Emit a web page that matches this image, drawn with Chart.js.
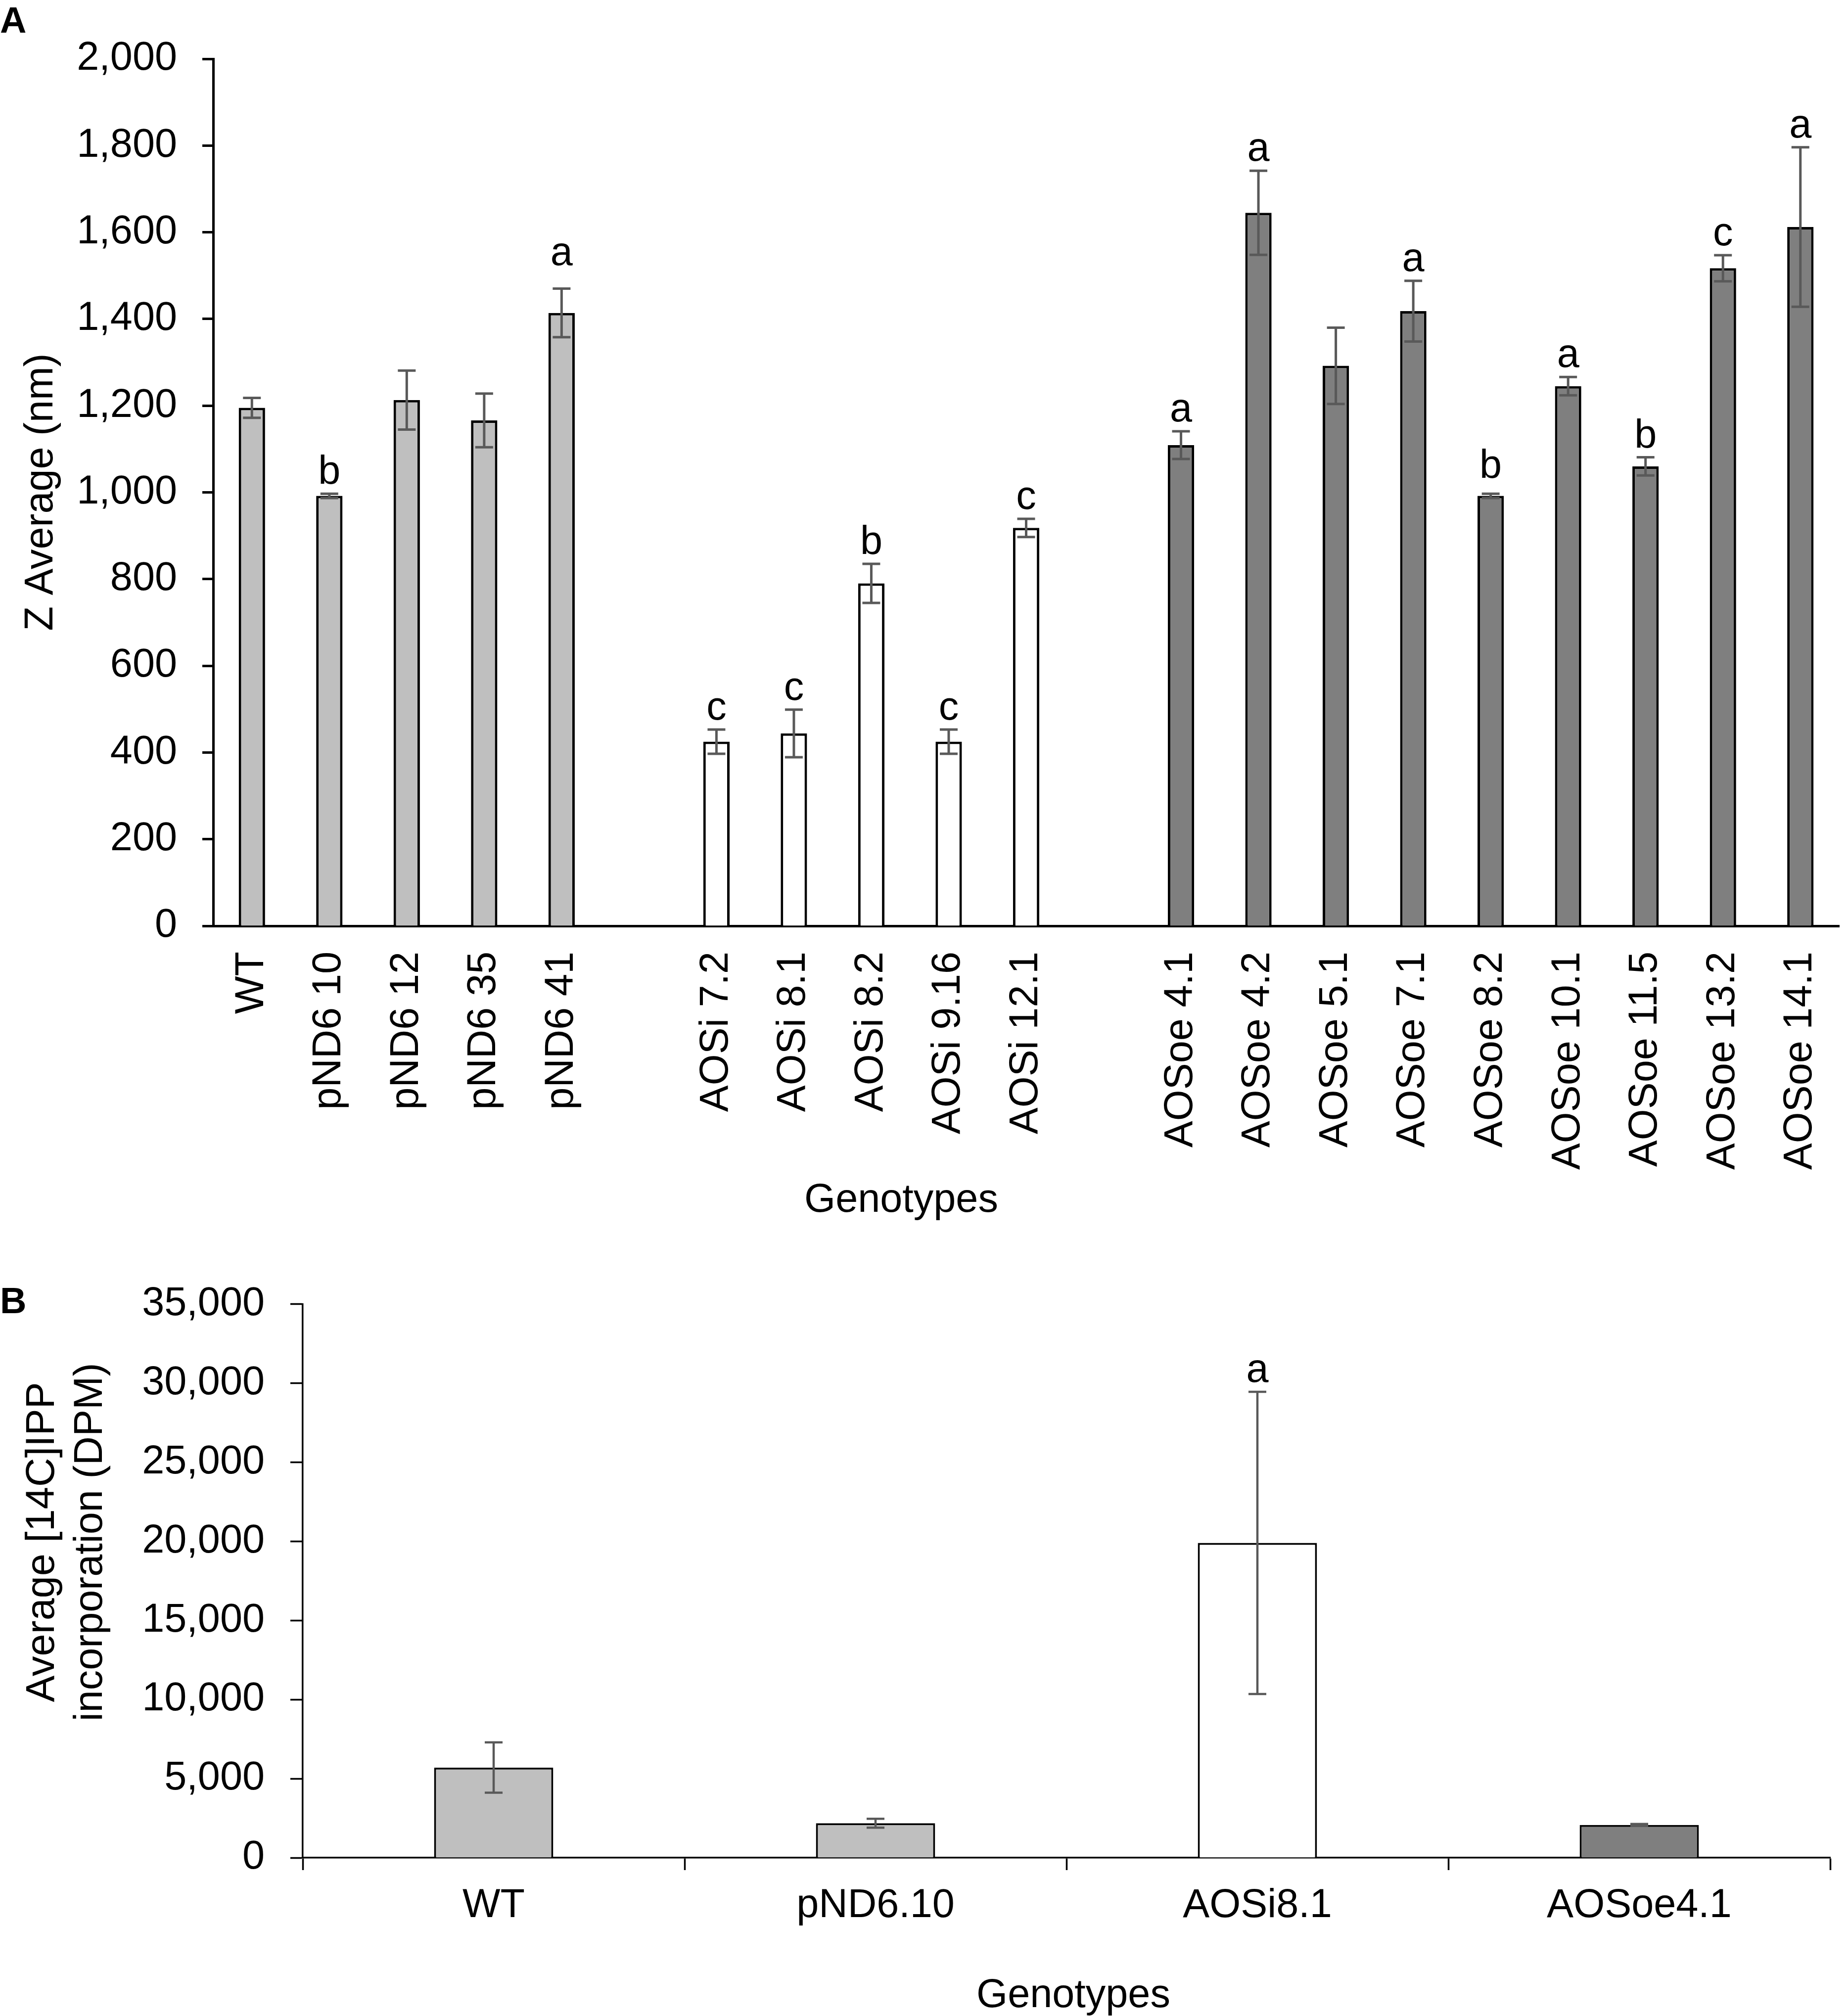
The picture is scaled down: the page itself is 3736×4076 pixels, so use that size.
<!DOCTYPE html>
<html><head><meta charset="utf-8">
<script src="https://cdn.jsdelivr.net/npm/chart.js@4.4.1/dist/chart.umd.min.js"></script>
<style>
html,body{margin:0;padding:0;background:#fff;}
#wrap{position:relative;width:3736px;height:4076px;overflow:hidden;background:#fff;}
canvas{position:absolute;left:0;}
</style></head><body>
<div id="wrap">
<canvas id="cA" width="3736" height="2500" style="top:0px"></canvas>
<canvas id="cB" width="3736" height="1576" style="top:2500px"></canvas>
</div>
<script>
// ---------- Panel A data ----------
const pnd6Labels = ['WT', 'pND6 10', 'pND6 12', 'pND6 35', 'pND6 41'];
const pnd6Values = [1195, 992, 1213, 1166, 1414];
const pnd6Errors = [23, 5, 68, 62, 56];
const pnd6Letters = ['', 'b', '', '', 'a'];

const aosiLabels = ['AOSi 7.2', 'AOSi 8.1', 'AOSi 8.2', 'AOSi 9.16', 'AOSi 12.1'];
const aosiValues = [425, 444, 790, 425, 918];
const aosiErrors = [28, 55, 45, 28, 21];
const aosiLetters = ['c', 'c', 'b', 'c', 'c'];

const aosoeLabels = ['AOSoe 4.1', 'AOSoe 4.2', 'AOSoe 5.1', 'AOSoe 7.1', 'AOSoe 8.2', 'AOSoe 10.1', 'AOSoe 11.5', 'AOSoe 13.2', 'AOSoe 14.1'];
const aosoeValues = [1109, 1645, 1292, 1418, 992, 1245, 1060, 1517, 1612];
const aosoeErrors = [32, 97, 88, 70, 5, 21, 21, 30, 184];
const aosoeLetters = ['a', 'a', '', 'a', 'b', 'a', 'b', 'c', 'a'];

const yTicksA = { min: 0, max: 2000, step: 200 };
const titleA_y = 'Z Average (nm)';
const titleA_x = 'Genotypes';

// ---------- Panel B data ----------
const bLabels = ['WT', 'pND6.10', 'AOSi8.1', 'AOSoe4.1'];
const bValues = [5700, 2180, 19900, 2070];
const bErrors = [1590, 280, 9550, 60];
const bLetters = ['', '', 'a', ''];
const yTicksB = { min: 0, max: 35000, step: 5000 };
const titleB_y = ['Average [14C]IPP', 'incorporation (DPM)'];
const titleB_x = 'Genotypes';

// ---------- styles ----------
const LIGHT = '#BFBFBF', WHITE = '#FFFFFF', DARK = '#7F7F7F', ERR = '#595959';
const FONT = "'Liberation Sans', Arial, Helvetica, sans-serif";
Chart.defaults.font.family = FONT;
Chart.defaults.color = '#000';

// build panel A combined arrays (one empty category between groups)
const labelsA = [...pnd6Labels, '', ...aosiLabels, '', ...aosoeLabels];
const valuesA = [...pnd6Values, null, ...aosiValues, null, ...aosoeValues];
const errorsA = [...pnd6Errors, null, ...aosiErrors, null, ...aosoeErrors];
const lettersA = [...pnd6Letters, '', ...aosiLetters, '', ...aosoeLetters];
const colorsA = [...pnd6Labels.map(() => LIGHT), WHITE, ...aosiLabels.map(() => WHITE), WHITE, ...aosoeLabels.map(() => DARK)];
const colorsB = [LIGHT, LIGHT, WHITE, DARK];
// letter placement gap (px above the error-bar cap); a few letters sit higher
const gapsA = labelsA.map((l, i) => (i === 4 ? 48 : (i === 16 ? 32 : 20)));
const gapsB = bLabels.map(() => 20);

const errorBarPlugin = {
  id: 'errbars',
  afterDatasetsDraw(chart, args, o) {
    const ctx = chart.ctx;
    const meta = chart.getDatasetMeta(0);
    const ys = chart.scales.y;
    const vals = chart.data.datasets[0].data;
    ctx.save();
    meta.data.forEach((bar, i) => {
      const v = vals[i];
      if (v == null) return;
      const e = o.errors[i];
      const yt = ys.getPixelForValue(v + e), yb = ys.getPixelForValue(v - e);
      ctx.strokeStyle = o.color; ctx.lineWidth = o.width; ctx.lineCap = 'butt';
      ctx.beginPath();
      ctx.moveTo(bar.x, yt); ctx.lineTo(bar.x, yb);
      ctx.moveTo(bar.x - o.cap, yt); ctx.lineTo(bar.x + o.cap, yt);
      ctx.moveTo(bar.x - o.cap, yb); ctx.lineTo(bar.x + o.cap, yb);
      ctx.stroke();
      const L = o.letters[i];
      if (L) {
        ctx.fillStyle = '#000'; ctx.font = o.font;
        ctx.textAlign = 'center'; ctx.textBaseline = 'alphabetic';
        ctx.fillText(L, bar.x, yt - o.gaps[i]);
      }
    });
    ctx.restore();
  }
};

const textPlugin = {
  id: 'texts',
  afterDraw(chart, args, o) {
    const ctx = chart.ctx;
    o.items.forEach(t => {
      ctx.save();
      ctx.translate(t.x, t.y);
      if (t.rot) ctx.rotate(t.rot);
      ctx.font = t.font; ctx.fillStyle = '#000';
      ctx.textAlign = t.align || 'center';
      ctx.textBaseline = t.baseline || 'alphabetic';
      ctx.fillText(t.text, 0, 0);
      ctx.restore();
    });
  }
};

const F81 = '81px ' + FONT;
const BOLD = 'bold 74px ' + FONT;

new Chart(document.getElementById('cA'), {
  type: 'bar',
  data: {
    labels: labelsA,
    datasets: [{
      data: valuesA, backgroundColor: colorsA, borderColor: '#000', borderWidth: 5,
      barPercentage: 0.34, categoryPercentage: 1
    }]
  },
  options: {
    responsive: false, animation: false, devicePixelRatio: 1,
    layout: { padding: { left: 0, right: 18, top: 119, bottom: 0 } },
    plugins: {
      legend: { display: false }, tooltip: { enabled: false },
      errbars: { errors: errorsA, letters: lettersA, gaps: gapsA, color: ERR, width: 5, cap: 18, font: F81 },
      texts: { items: [
        { text: 'A', x: 0, y: 66, font: BOLD, align: 'left' },
        { text: titleA_y, x: 84, y: 995, rot: -Math.PI / 2, font: F81, baseline: 'middle' },
        { text: titleA_x, x: 1822, y: 2450, font: F81 }
      ] }
    },
    scales: {
      x: {
        grid: { display: false, drawTicks: false },
        border: { display: true, color: '#000', width: 5 },
        ticks: { autoSkip: false, minRotation: 90, maxRotation: 90, padding: 52, color: '#000', font: { size: 81 } },
        afterFit(s) { s.height = 628; s.paddingLeft = 0; s.paddingRight = 0; }
      },
      y: {
        min: yTicksA.min, max: yTicksA.max,
        ticks: { stepSize: yTicksA.step, padding: 51, color: '#000', font: { size: 81 } },
        grid: { drawOnChartArea: false, drawTicks: true, tickLength: 22, tickWidth: 5, tickColor: '#000' },
        border: { display: true, color: '#000', width: 5 },
        afterFit(s) { s.width = 431; s.paddingTop = 0; s.paddingBottom = 0; }
      }
    }
  },
  plugins: [errorBarPlugin, textPlugin]
});

new Chart(document.getElementById('cB'), {
  type: 'bar',
  data: {
    labels: bLabels,
    datasets: [{
      data: bValues, backgroundColor: colorsB, borderColor: '#000', borderWidth: 4,
      barPercentage: 0.312, categoryPercentage: 1
    }]
  },
  options: {
    responsive: false, animation: false, devicePixelRatio: 1,
    layout: { padding: { left: 0, right: 36, top: 136.5, bottom: 0 } },
    plugins: {
      legend: { display: false }, tooltip: { enabled: false },
      errbars: { errors: bErrors, letters: bLetters, gaps: gapsB, color: ERR, width: 4.5, cap: 18, font: F81 },
      texts: { items: [
        { text: 'B', x: 0, y: 155, font: BOLD, align: 'left' },
        { text: titleB_y[0], x: 87, y: 618, rot: -Math.PI / 2, font: F81, baseline: 'middle' },
        { text: titleB_y[1], x: 184, y: 618, rot: -Math.PI / 2, font: F81, baseline: 'middle' },
        { text: titleB_x, x: 2170, y: 1558, font: F81 }
      ] }
    },
    scales: {
      x: {
        grid: { display: true, drawOnChartArea: false, drawTicks: true, tickLength: 25, tickWidth: 3.5, tickColor: '#000', offset: true },
        border: { display: true, color: '#000', width: 3.5 },
        ticks: { autoSkip: false, minRotation: 0, maxRotation: 0, padding: 24, color: '#000', font: { size: 81 } },
        afterFit(s) { s.height = 320; s.paddingLeft = 0; s.paddingRight = 0; }
      },
      y: {
        min: yTicksB.min, max: yTicksB.max,
        ticks: { stepSize: yTicksB.step, padding: 52, color: '#000', font: { size: 81 } },
        grid: { drawOnChartArea: false, drawTicks: true, tickLength: 25, tickWidth: 3.5, tickColor: '#000' },
        border: { display: true, color: '#000', width: 3.5 },
        afterFit(s) { s.width = 612; s.paddingTop = 0; s.paddingBottom = 0; }
      }
    }
  },
  plugins: [errorBarPlugin, textPlugin]
});
</script>
</body></html>
